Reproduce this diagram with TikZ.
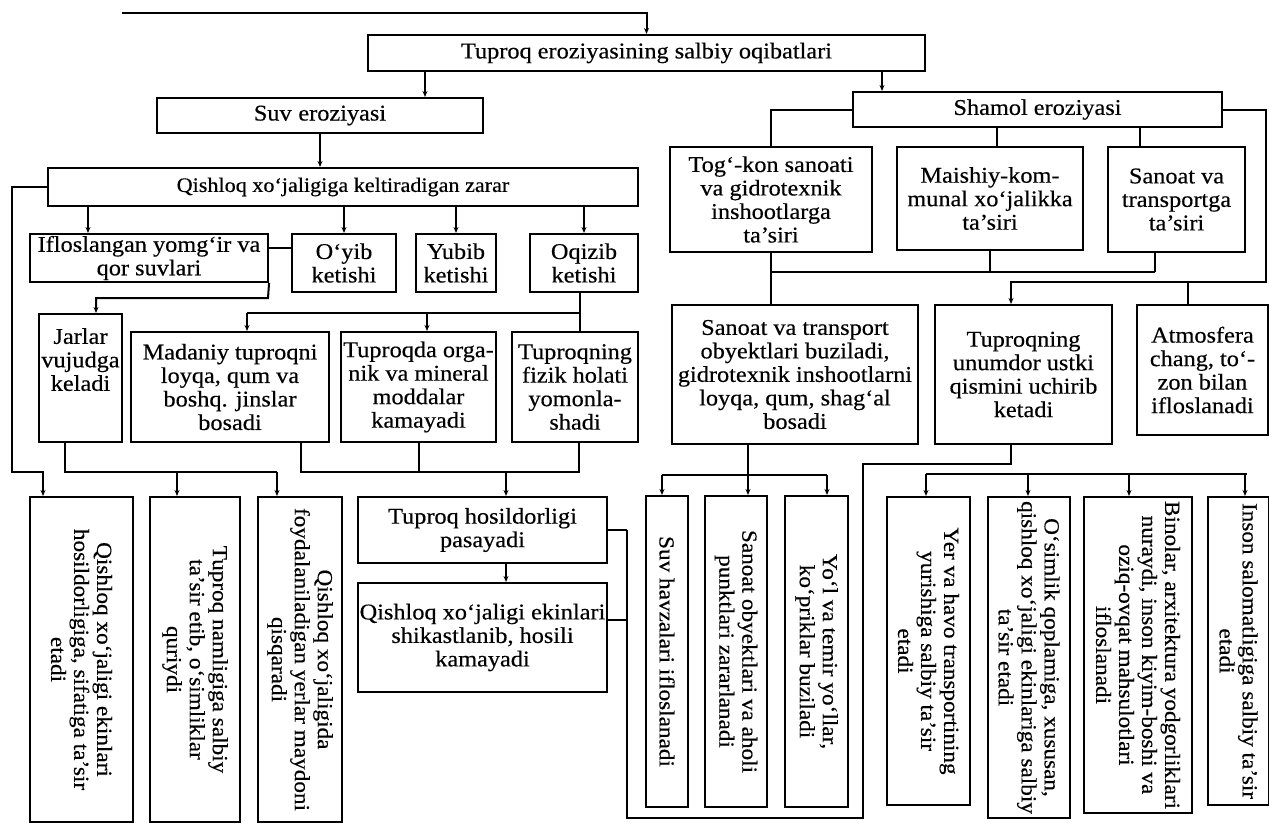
\documentclass[tikz,border=0pt]{standalone}
\usepackage{fontspec}
\setmainfont{Liberation Serif}[FakeStretch=1.08,FakeBold=0.4]
\usetikzlibrary{arrows.meta}
\begin{document}
\begin{tikzpicture}[x=1pt,y=-1pt,
  bx/.style={draw, line width=2.1pt, align=center, inner sep=1pt, font=\fontsize{22.5}{23.5}\selectfont},
  vbx/.style={bx, rotate=-90, font=\fontsize{21.5}{23}\selectfont},
  ln/.style={line width=2pt},
  ar/.style={ln, -{Stealth[length=6pt,width=5pt]}}]
\useasboundingbox (0,0) rectangle (1269,823);
\fill[white] (0,0) rectangle (1269,823);
% level 0-1
\node[bx, minimum width=557pt, minimum height=36pt] (main) at (646.5,53) {Tuproq eroziyasining salbiy oqibatlari};
\node[bx, minimum width=326pt, minimum height=35pt] (suv) at (320,115.5) {Suv\hspace{0.3em}eroziyasi};
\node[bx, minimum width=369pt, minimum height=35pt] (shamol) at (1037.5,109.5) {Shamol eroziyasi};
% right branch
\node[bx, minimum width=202pt, minimum height=105pt] (tog) at (771,199.5) {Tog‘-kon sanoati\\va gidrotexnik\\inshootlarga\\ta'siri};
\node[bx, minimum width=186pt, minimum height=103pt] (maishiy) at (990,198.5) {Maishiy-kom-\\munal xo‘jalikka\\ta'siri};
\node[bx, minimum width=137pt, minimum height=105pt] (sanT) at (1176.5,199.5) {Sanoat va\\transportga\\ta'siri};
\node[bx, minimum width=246pt, minimum height=139pt] (sanOb) at (795,374.5) {Sanoat va transport\\obyektlari buziladi,\\gidrotexnik inshootlarni\\loyqa, qum, shag‘al\\bosadi};
\node[bx, minimum width=177pt, minimum height=139pt] (unumdor) at (1023.5,374.5) {Tuproqning\\unumdor ustki\\qismini uchirib\\ketadi};
\node[bx, minimum width=131pt, minimum height=130pt] (atmos) at (1202.5,370) {Atmosfera\\chang, to‘-\\zon bilan\\ifloslanadi};
% left branch
\node[bx, minimum width=590pt, minimum height=38pt, font=\fontsize{20.5}{22}\selectfont] (qx) at (343,187) {Qishloq xo‘jaligiga keltiradigan zarar};
\node[bx, minimum width=238pt, minimum height=48pt] (iflo) at (149,258) {Ifloslangan yomg‘ir va\\qor suvlari};
\node[bx, minimum width=104pt, minimum height=58pt] (oyib) at (344,263) {O‘yib\\ketishi};
\node[bx, minimum width=80pt, minimum height=58pt] (yubib) at (456,263) {Yubib\\ketishi};
\node[bx, minimum width=108pt, minimum height=58pt] (oqizib) at (584,263) {Oqizib\\ketishi};
\node[bx, minimum width=83pt, minimum height=128pt] (jarlar) at (80.5,378) {};
\node[font=\fontsize{22.5}{23.5}\selectfont, align=center, anchor=north, inner sep=0pt] (jarlartext) at (80.5,328) {Jarlar\\vujudga\\keladi};
\node[bx, minimum width=198pt, minimum height=110pt] (madaniy) at (230,387) {Madaniy tuproqni\\loyqa, qum va\\boshq. jinslar\\bosadi};
\node[bx, minimum width=155pt, minimum height=110pt] (tuproqda) at (418.5,387) {Tuproqda orga-\\nik va mineral\\moddalar\\kamayadi};
\node[bx, minimum width=126pt, minimum height=110pt] (fizik) at (575,387) {Tuproqning\\fizik holati\\yomonla-\\shadi};
\node[bx, minimum width=249pt, minimum height=66pt] (hosil) at (482.5,530) {Tuproq hosildorligi\\pasayadi};
\node[bx, minimum width=249pt, minimum height=109pt] (shik) at (482.5,637.5) {Qishloq xo‘jaligi ekinlari\\shikastlanib, hosili\\kamayadi};
% rotated boxes
\node[vbx, minimum width=325pt, minimum height=103pt] (A) at (81.5,659.5) {Qishloq xo‘jaligi ekinlari\\hosildorligiga, sifatiga ta'sir\\etadi};
\node[vbx, minimum width=325pt, minimum height=90pt] (B) at (195,659.5) {Tuproq namligiga salbiy\\ta'sir etib, o‘simliklar\\quriydi};
\node[vbx, minimum width=325pt, minimum height=84pt] (C) at (300,659.5) {Qishloq xo‘jaligida\\foydalaniladigan yerlar maydoni\\qisqaradi};
\node[vbx, minimum width=311pt, minimum height=42pt] (suvH) at (667,651.5) {Suv havzalari ifloslanadi};
\node[vbx, minimum width=311pt, minimum height=62pt] (sanAh) at (736,651.5) {Sanoat obyektlari va aholi\\punktlari zararlanadi};
\node[vbx, minimum width=311pt, minimum height=63pt] (yol) at (816.5,651.5) {Yo‘l va temir yo‘llar,\\ko‘priklar buziladi};
\node[vbx, minimum width=308pt, minimum height=83pt] (yer) at (928.5,651) {Yer va havo transportining\\yurishiga salbiy ta'sir\\etadi};
\node[vbx, minimum width=321pt, minimum height=82pt] (osim) at (1029,657.5) {O‘simlik qoplamiga, xususan,\\qishloq xo‘jaligi ekinlariga salbiy\\ta'sir etadi};
\node[vbx, minimum width=316pt, minimum height=108pt] (bino) at (1138,655) {Binolar, arxitektura yodgorliklari\\nuraydi, inson kiyim-boshi va\\oziq-ovqat mahsulotlari\\ifloslanadi};
\node[vbx, minimum width=308pt, minimum height=61pt] (inson) at (1238.5,651) {Inson salomatligiga salbiy ta'sir\\etadi};
% connectors top
\coordinate (topstart) at (122,13);
\draw[ar] (topstart) -| (main.north);
\draw[ar] (425,0 |- main.south) -- (425,0 |- suv.north);
\draw[ar] (882,0 |- main.south) -- (882,0 |- shamol.north);
\draw[ar] (suv.south) -- (suv.south |- qx.north);
% shamol branch
\draw[ln] (shamol.west) -| (tog.north);
\draw[ln] (997,0 |- shamol.south) -- (997,0 |- maishiy.north);
\draw[ln] (1140,0 |- shamol.south) -- (1140,0 |- sanT.north);
\draw[ar] (shamol.east) -- (shamol.east -| 1266,0) -- (1266,282) -- (1011,282) -- (1011,0 |- unumdor.north);
\draw[ln] (1188,282) -- (1188,0 |- atmos.north);
\draw[ln] (tog.south) -- (tog.south |- sanOb.north);
\draw[ln] (771,272) -- (1155,272);
\draw[ln] (maishiy.south) -- (maishiy.south |- 0,272);
\draw[ln] (1155,0 |- sanT.south) -- (1155,272);
% qishloq branch
\draw[ar] (88,0 |- qx.south) -- (88,0 |- iflo.north);
\draw[ar] (oyib.north |- qx.south) -- (oyib.north);
\draw[ar] (yubib.north |- qx.south) -- (yubib.north);
\draw[ar] (oqizib.north |- qx.south) -- (oqizib.north);
\draw[ar] (qx.west) -- (qx.west -| 12,0) -- (12,472) -- (43,472) -- (43,0 |- A.west);
\draw[ln] (iflo.east |- 0,248) -- (oyib.west |- 0,248);
\draw[ar] (iflo.south east) -- (268,298) -- (96,298) -- (96,0 |- jarlar.north);
\draw[ln] (580,0 |- oqizib.south) -- (580,0 |- fizik.north);
\draw[ln] (580,313) -- (247,313);
\draw[ar] (247,313) -- (247,0 |- madaniy.north);
\draw[ar] (427,313) -- (427,0 |- tuproqda.north);
% below row 5 left
\draw[ln] (65,0 |- jarlar.south) -- (65,472) -- (277,472);
\draw[ar] (177,472) -- (177,0 |- B.west);
\draw[ar] (277,472) -- (277,0 |- C.west);
\draw[ln] (301,0 |- madaniy.south) -- (301,472) -- (579,472) -- (579,0 |- fizik.south);
\draw[ln] (tuproqda.south) -- (tuproqda.south |- 0,472);
\draw[ar] (506,472) -- (506,0 |- hosil.north);
\draw[ar] (506,0 |- hosil.south) -- (506,0 |- shik.north);
% bracket
\draw[ln] (hosil.east) -- (627,530);
\draw[ln] (shik.east |- 0,620) -- (627,620);
\draw[ln] (627,530) -- (627,818) -- (863,818) -- (863,464) -- (1011,464) -- (1011,0 |- unumdor.south);
% sanoat obyektlari children
\draw[ln] (748,0 |- sanOb.south) -- (748,475);
\draw[ln] (662,475) -- (827,475);
\draw[ar] (662,475) -- (662,0 |- suvH.west);
\draw[ar] (748,475) -- (748,0 |- sanAh.west);
\draw[ar] (827,475) -- (827,0 |- yol.west);
% right row 6
\draw[ln] (926,474) -- (1247,474);
\draw[ar] (926,474) -- (926,0 |- yer.west);
\draw[ar] (1028,474) -- (1028,0 |- osim.west);
\draw[ar] (1129,474) -- (1129,0 |- bino.west);
\draw[ar] (1245,474) -- (1245,0 |- inson.west);
\end{tikzpicture}
\end{document}
